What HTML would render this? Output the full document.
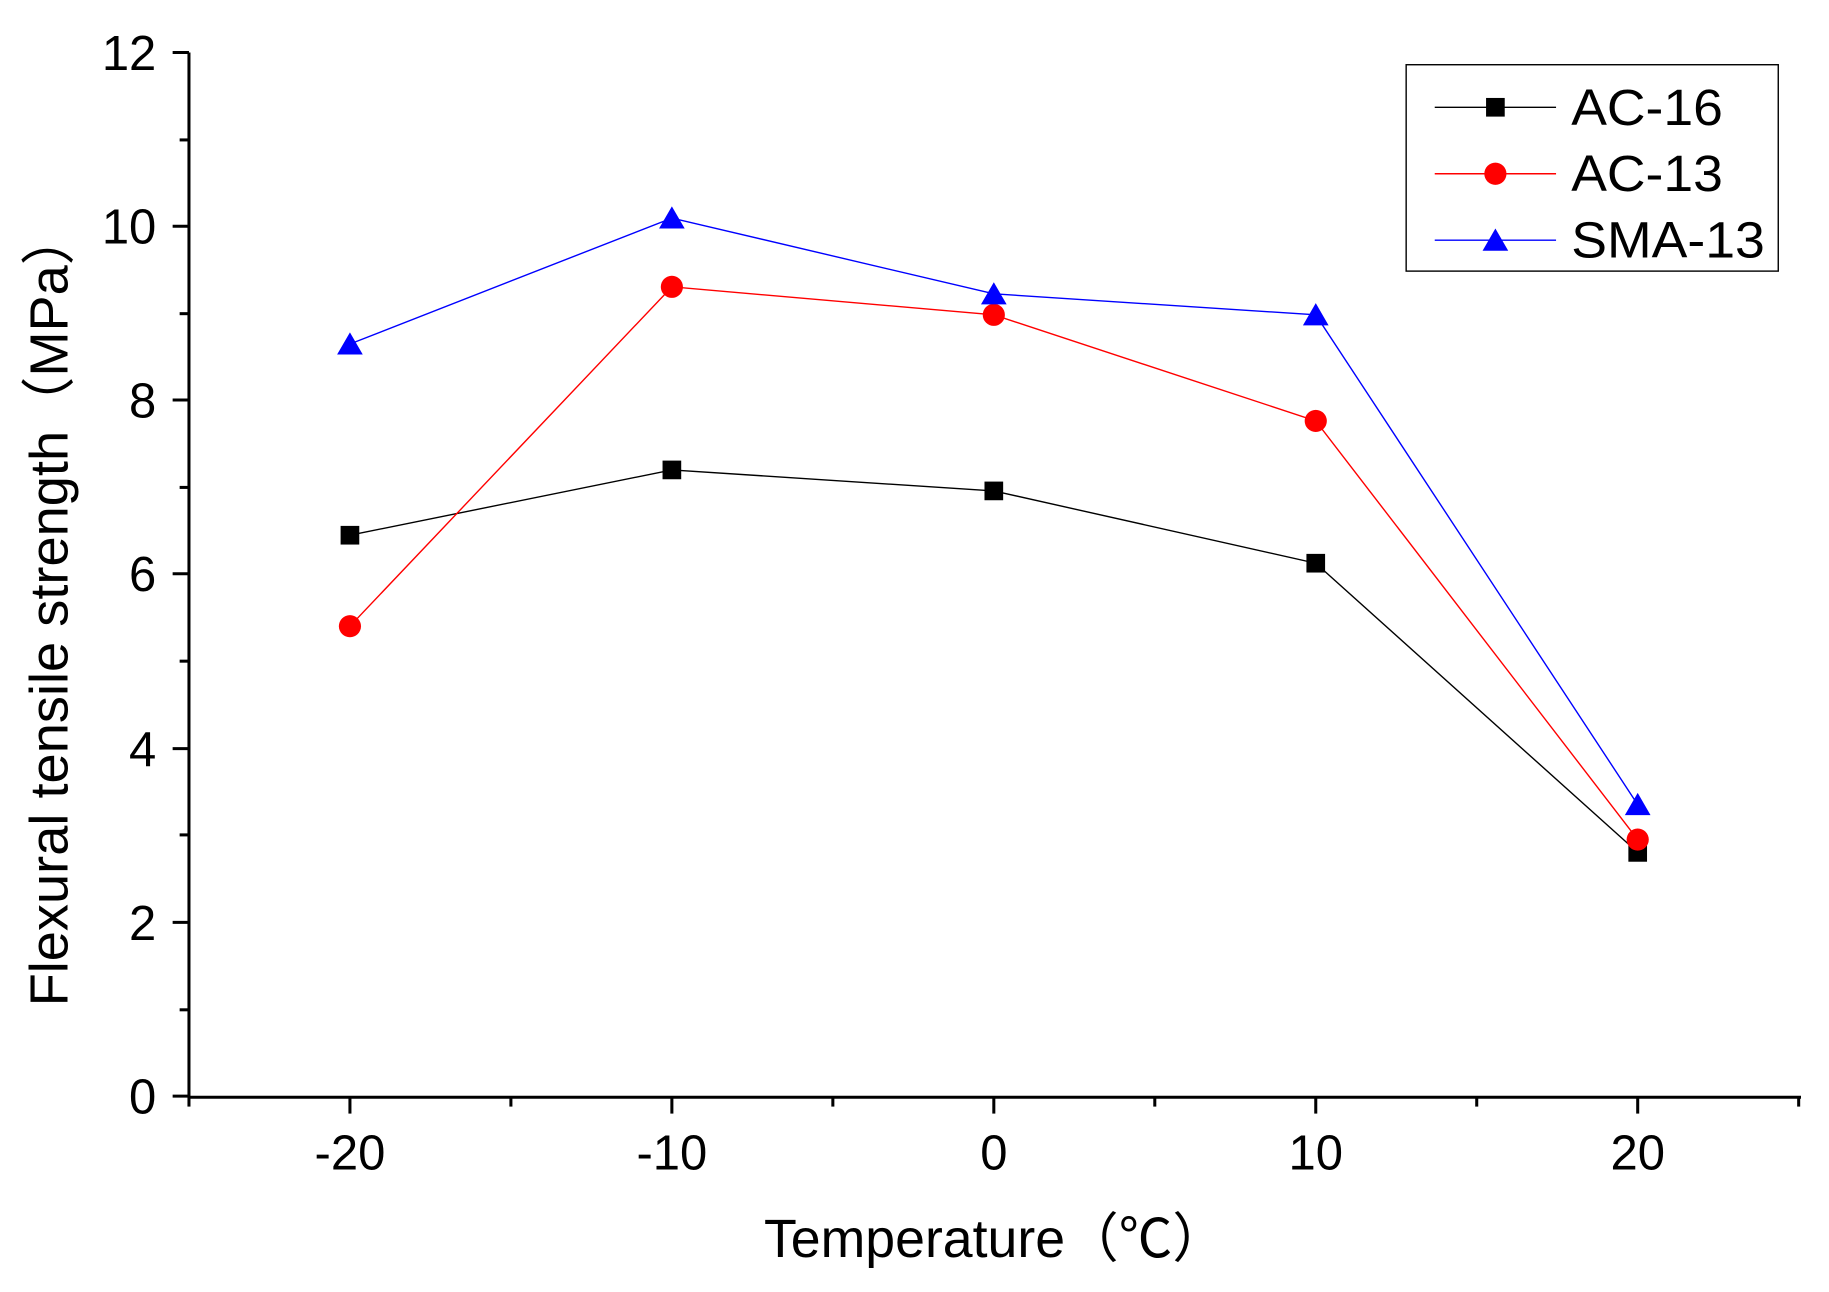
<!DOCTYPE html>
<html><head><style>html,body{margin:0;padding:0;background:#fff}svg{display:block}</style></head><body>
<svg width="1829" height="1292" viewBox="0 0 1568 1108" preserveAspectRatio="none" xmlns="http://www.w3.org/2000/svg" font-family="Liberation Sans, sans-serif">
<rect width="1568" height="1108" fill="#fff"/>
<g stroke="#000" stroke-width="2.6" fill="none">
<line x1="162" y1="45" x2="162" y2="941"/>
<line x1="161" y1="941" x2="1544" y2="941"/>
<line x1="148" y1="940" x2="162" y2="940"/><line x1="148" y1="791" x2="162" y2="791"/><line x1="148" y1="642" x2="162" y2="642"/><line x1="148" y1="492" x2="162" y2="492"/><line x1="148" y1="343" x2="162" y2="343"/><line x1="148" y1="194" x2="162" y2="194"/><line x1="148" y1="45" x2="162" y2="45"/>
<line x1="154" y1="866" x2="162" y2="866"/><line x1="154" y1="716" x2="162" y2="716"/><line x1="154" y1="567" x2="162" y2="567"/><line x1="154" y1="418" x2="162" y2="418"/><line x1="154" y1="269" x2="162" y2="269"/><line x1="154" y1="120" x2="162" y2="120"/>
<line x1="300" y1="941" x2="300" y2="955"/><line x1="576" y1="941" x2="576" y2="955"/><line x1="852" y1="941" x2="852" y2="955"/><line x1="1128" y1="941" x2="1128" y2="955"/><line x1="1404" y1="941" x2="1404" y2="955"/>
<line x1="162" y1="941" x2="162" y2="949"/><line x1="438" y1="941" x2="438" y2="949"/><line x1="714" y1="941" x2="714" y2="949"/><line x1="990" y1="941" x2="990" y2="949"/><line x1="1266" y1="941" x2="1266" y2="949"/><line x1="1542" y1="941" x2="1542" y2="949"/>
</g>
<g font-size="42" text-anchor="end" fill="#000">
<text x="134" y="955">0</text><text x="134" y="806">2</text><text x="134" y="657">4</text><text x="134" y="507">6</text><text x="134" y="358">8</text><text x="134" y="209">10</text><text x="134" y="60">12</text>
</g>
<g font-size="42" text-anchor="middle" fill="#000">
<text x="300" y="1003">-20</text><text x="576" y="1003">-10</text><text x="852" y="1003">0</text><text x="1128" y="1003">10</text><text x="1404" y="1003">20</text>
</g>
<text x="853" y="1078" font-size="46" text-anchor="middle">Temperature（℃）</text>
<text transform="translate(58,522) rotate(-90)" font-size="46.5" text-anchor="middle">Flexural tensile strength（MPa）</text>
<polyline fill="none" stroke="#000" stroke-width="1.2" points="300,459 576,403 852,421 1128,483 1404,731"/>
<polyline fill="none" stroke="#f00" stroke-width="1.2" points="300,537 576,246 852,270 1128,361 1404,720"/>
<polyline fill="none" stroke="#00f" stroke-width="1.2" points="300,295 576,187 852,252 1128,270 1404,690"/>
<g fill="#000"><rect x="292" y="451" width="16" height="16"/><rect x="568" y="395" width="16" height="16"/><rect x="844" y="413" width="16" height="16"/><rect x="1120" y="475" width="16" height="16"/><rect x="1396" y="723" width="16" height="16"/></g>
<g fill="#f00"><circle cx="300" cy="537" r="9.5"/><circle cx="576" cy="246" r="9.5"/><circle cx="852" cy="270" r="9.5"/><circle cx="1128" cy="361" r="9.5"/><circle cx="1404" cy="720" r="9.5"/></g>
<g fill="#00f"><path d="M300,285 l11,19 h-22z"/><path d="M576,177 l11,19 h-22z"/><path d="M852,242 l11,19 h-22z"/><path d="M1128,260 l11,19 h-22z"/><path d="M1404,680 l11,19 h-22z"/></g>
<rect x="1205.5" y="55.5" width="319" height="177" fill="#fff" stroke="#000" stroke-width="1.2"/>
<line x1="1230" y1="92" x2="1334" y2="92" stroke="#000" stroke-width="1.2"/>
<rect x="1274" y="84" width="16" height="16" fill="#000"/>
<line x1="1230" y1="149" x2="1334" y2="149" stroke="#f00" stroke-width="1.2"/>
<circle cx="1282" cy="149" r="9.5" fill="#f00"/>
<line x1="1230" y1="206" x2="1334" y2="206" stroke="#00f" stroke-width="1.2"/>
<path d="M1282,196 l11,19 h-22z" fill="#00f"/>
<g font-size="44" fill="#000"><text x="1347" y="107" textLength="130" lengthAdjust="spacingAndGlyphs">AC-16</text><text x="1347" y="164" textLength="130" lengthAdjust="spacingAndGlyphs">AC-13</text><text x="1347" y="221" textLength="166" lengthAdjust="spacingAndGlyphs">SMA-13</text></g>
</svg>
</body></html>
